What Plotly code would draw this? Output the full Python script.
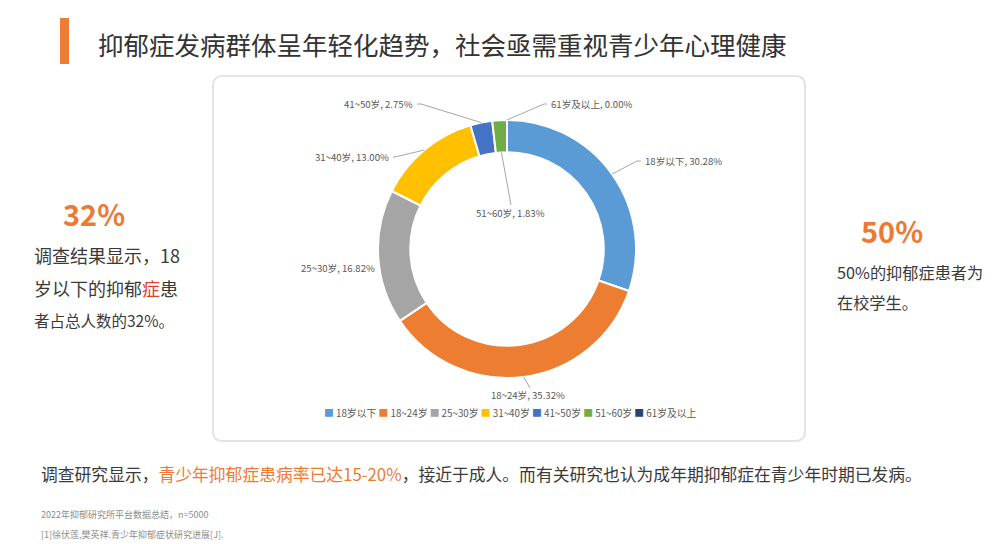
import math
import plotly.graph_objects as go

W, H = 1006, 544

# ---------------- data ----------------
categories = ["18岁以下", "18~24岁", "25~30岁", "31~40岁", "41~50岁", "51~60岁", "61岁及以上"]
shares = [30.28, 35.32, 16.82, 13.00, 2.75, 1.83, 0.00]

title_text = "抑郁症发病群体呈年轻化趋势，社会亟需重视青少年心理健康"
left_big = "32%"
right_big = "50%"
source_note = "2022年抑郁研究所平台数据总结，n=5000"
ref_note = "[1]徐伏莲,樊英祥.青少年抑郁症状研究进展[J]."

# ---------------- style ----------------
colors = ["#5B9BD5", "#ED7D31", "#A5A5A5", "#FFC000", "#4472C4", "#70AD47", "#264478"]
ORANGE = "#EC7A34"
TXT = "#3A3A3A"
LBL = "#595959"
FONT = "Noto Sans CJK SC, Noto Sans, sans-serif"

CX, CY, R = 507, 249, 129       # donut centre / radius in pixels
HOLE = 0.75

# label placement (pixel position of the text anchor, anchor side, leader start radius factor, elbow)
label_layout = [
    dict(x=643, y=161, anchor="left",   r=1.0,  elbow=(637, 161)),
    dict(x=528, y=395, anchor="center", r=1.0,  elbow=None, end=(530, 388)),
    dict(x=377, y=268, anchor="right",  r=None, elbow=None),
    dict(x=391, y=157, anchor="right",  r=1.0,  elbow=(395, 157)),
    dict(x=415, y=104, anchor="right",  r=1.0,  elbow=(421, 104)),
    dict(x=510, y=213, anchor="center", r=HOLE, elbow=None, end=(511, 205)),
    dict(x=549, y=104, anchor="left",   r=1.0,  elbow=(544, 104)),
]


def px(x):
    return x / W


def py(y):
    return 1 - y / H


fig = go.Figure()

fig.add_trace(go.Pie(
    labels=categories,
    values=shares,
    hole=HOLE,
    sort=False,
    direction="clockwise",
    rotation=0,
    marker=dict(colors=colors, line=dict(color="white", width=2)),
    textinfo="none",
    hoverinfo="label+value",
    showlegend=False,
    domain=dict(x=[px(CX - R), px(CX + R)], y=[py(CY + R), py(CY - R)]),
))

shapes = []
annotations = []

# card behind the chart
x0, y0, x1, y1, rr = 213, 76, 805, 441, 10
card_path = (
    f"M {px(x0+rr)},{py(y0)} L {px(x1-rr)},{py(y0)} "
    f"Q {px(x1)},{py(y0)} {px(x1)},{py(y0+rr)} L {px(x1)},{py(y1-rr)} "
    f"Q {px(x1)},{py(y1)} {px(x1-rr)},{py(y1)} L {px(x0+rr)},{py(y1)} "
    f"Q {px(x0)},{py(y1)} {px(x0)},{py(y1-rr)} L {px(x0)},{py(y0+rr)} "
    f"Q {px(x0)},{py(y0)} {px(x0+rr)},{py(y0)} Z"
)
shapes.append(dict(type="path", path=card_path, xref="paper", yref="paper",
                   line=dict(color="#E4E4E4", width=2), fillcolor="white", layer="below"))

# title bar
shapes.append(dict(type="rect", xref="paper", yref="paper",
                   x0=px(60), x1=px(69), y0=py(64), y1=py(18),
                   fillcolor="#ED7D31", line=dict(width=0)))

# data labels with leader lines, positions derived from the slice angles
total = sum(shares)
cum = 0.0
for cat, val, lay in zip(categories, shares, label_layout):
    mid = (cum + val / 2) / total * 2 * math.pi
    cum += val
    annotations.append(dict(
        x=px(lay["x"]), y=py(lay["y"]), xref="paper", yref="paper",
        text=f"{cat}, {val:.2f}%", showarrow=False,
        xanchor=lay["anchor"], yanchor="middle",
        font=dict(family=FONT, size=9.6, color=LBL)))
    if lay["r"] is None:
        continue
    sx = CX + R * lay["r"] * math.sin(mid)
    sy = CY - R * lay["r"] * math.cos(mid)
    if lay.get("elbow"):
        ex, ey = lay["elbow"]
        tx = lay["x"] - 2 if lay["anchor"] == "left" else lay["x"] + 2
        path = f"M {px(sx)},{py(sy)} L {px(ex)},{py(ey)} L {px(tx)},{py(ey)}"
    else:
        ex, ey = lay["end"]
        path = f"M {px(sx)},{py(sy)} L {px(ex)},{py(ey)}"
    shapes.append(dict(type="path", path=path, xref="paper", yref="paper",
                       line=dict(color="#A6A6A6", width=1)))

# custom legend
legend_parts = [f"<span style='color:{c}'>■</span> {cat}" for c, cat in zip(colors, categories)]
annotations.append(dict(
    x=px(510), y=py(413), xref="paper", yref="paper",
    text=" ".join(legend_parts), showarrow=False,
    xanchor="center", yanchor="middle",
    font=dict(family=FONT, size=9.8, color=LBL)))

# title
annotations.append(dict(
    x=px(96), y=py(43), xref="paper", yref="paper", text=title_text, showarrow=False,
    xanchor="left", yanchor="middle", font=dict(family=FONT, size=25.5, color="#333333")))

# left block
annotations.append(dict(
    x=px(94), y=py(213), xref="paper", yref="paper", text=left_big, showarrow=False,
    xanchor="center", yanchor="middle",
    font=dict(family=FONT, size=29, color=ORANGE, weight="bold")))
left_lines = [
    ("调查结果显示，18", 18),
    ("岁以下的抑郁<span style='color:#E0402E'>症</span>患", 18),
    ("者占总人数的32%。", 15.5),
]
for i, (t, s) in enumerate(left_lines):
    annotations.append(dict(
        x=px(32), y=py(255 + i * 32.5), xref="paper", yref="paper", text=t, showarrow=False,
        xanchor="left", yanchor="middle", font=dict(family=FONT, size=s, color=TXT)))

# right block
annotations.append(dict(
    x=px(892), y=py(230), xref="paper", yref="paper", text=right_big, showarrow=False,
    xanchor="center", yanchor="middle",
    font=dict(family=FONT, size=29, color=ORANGE, weight="bold")))
right_lines = ["50%的抑郁症患者为", "在校学生。"]
for i, t in enumerate(right_lines):
    annotations.append(dict(
        x=px(835), y=py(272 + i * 30), xref="paper", yref="paper", text=t, showarrow=False,
        xanchor="left", yanchor="middle", font=dict(family=FONT, size=16.2, color=TXT)))

# bottom statement
bottom = ("调查研究显示，<span style='color:#EE7B30'>青少年抑郁症患病率已达15-20%</span>"
          "，接近于成人。而有关研究也认为成年期抑郁症在青少年时期已发病。")
annotations.append(dict(
    x=px(39), y=py(474), xref="paper", yref="paper", text=bottom, showarrow=False,
    xanchor="left", yanchor="middle", font=dict(family=FONT, size=16.8, color=TXT)))

# footnotes
for i, t in enumerate([source_note, ref_note]):
    annotations.append(dict(
        x=px(39), y=py(514 + i * 20), xref="paper", yref="paper", text=t, showarrow=False,
        xanchor="left", yanchor="middle", font=dict(family=FONT, size=9, color="#8C8C8C")))

fig.update_layout(
    width=W, height=H,
    margin=dict(l=0, r=0, t=0, b=0),
    paper_bgcolor="white", plot_bgcolor="white",
    shapes=shapes, annotations=annotations,
    showlegend=False,
)

fig.write_html("out.html")
